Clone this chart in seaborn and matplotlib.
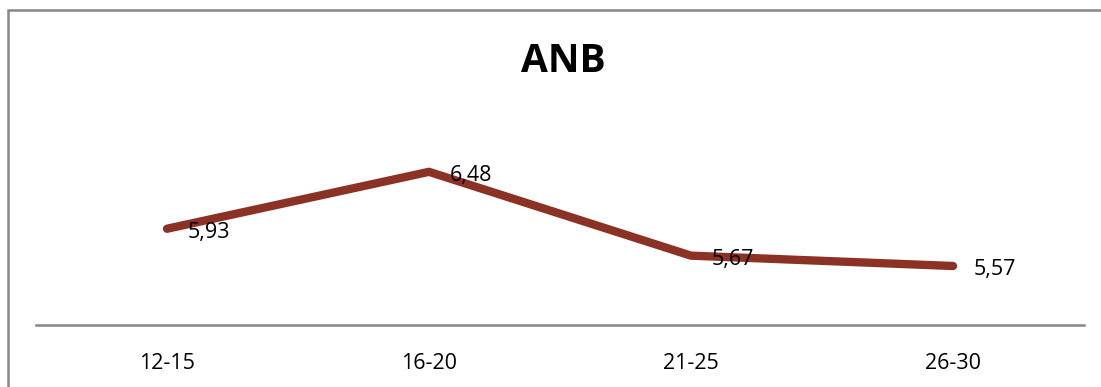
import matplotlib
matplotlib.use("Agg")
import matplotlib.pyplot as plt
import seaborn as sns
import pandas as pd
from matplotlib.patches import Rectangle

age_groups = ["12-15", "16-20", "21-25", "26-30"]
anb_values = [5.93, 6.48, 5.67, 5.57]
value_labels = ["5,93", "6,48", "5,67", "5,57"]

sns.set_style("white")
plt.rcParams["font.family"] = ["Open Sans", "DejaVu Sans"]

df = pd.DataFrame({"group": age_groups, "anb": anb_values})

fig = plt.figure(figsize=(11.01, 3.87), dpi=100)
ax = fig.add_axes([36 / 1101, 1 - 325 / 387, 1048 / 1101, (325 - 118) / 387])

sns.lineplot(data=df, x="group", y="anb", sort=False, ax=ax,
             color="#8B3224", linewidth=6, solid_capstyle="round")

for i, (v, lab) in enumerate(zip(anb_values, value_labels)):
    ax.annotate(lab, (i, v), xytext=(15, -2.5), textcoords="offset points",
                ha="left", va="center", fontsize=15.5, color="black")

ax.set_xlim(-0.5, 3.5)
ax.set_ylim(5, 7)
ax.set_xlabel("")
ax.set_ylabel("")
ax.set_yticks([])
ax.tick_params(axis="x", length=0, labelsize=15.5, pad=20, labelcolor="black")
for side in ["top", "right", "left"]:
    ax.spines[side].set_visible(False)
ax.spines["bottom"].set_color("#878787")
ax.spines["bottom"].set_linewidth(1.8)

fig.text(563 / 1101, 1 - 62 / 387, "ANB", ha="center", va="center",
         fontsize=28, fontweight="bold", color="black")

fig.add_artist(Rectangle((7.5 / 1101, -0.5), 2, 0.5 + 1 - 9.5 / 387,
                         transform=fig.transFigure, fill=False,
                         edgecolor="#878787", linewidth=1.8))

fig.savefig("out.png", dpi=100)
